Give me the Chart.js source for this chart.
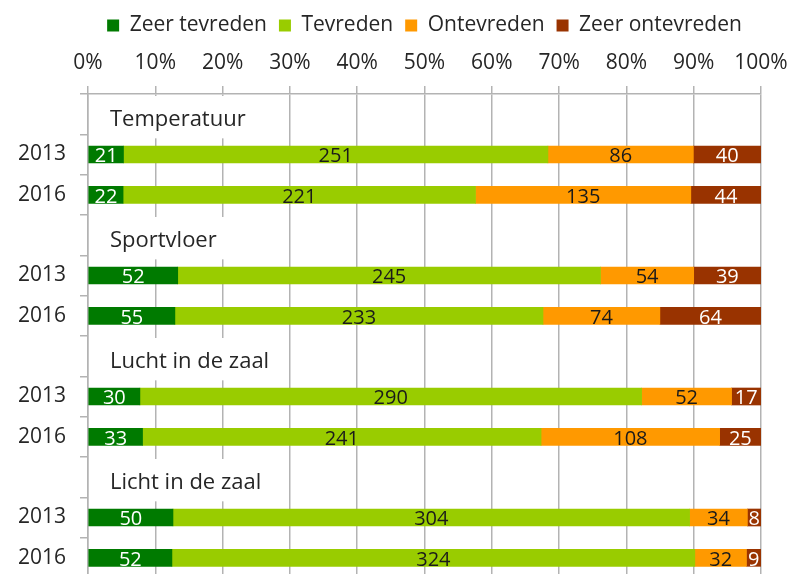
<!DOCTYPE html>
<html>
<head>
<meta charset="utf-8">
<script src="https://cdn.jsdelivr.net/npm/chart.js@4"></script>
<style>
  html, body { margin: 0; padding: 0; background: #fff; overflow: hidden; }
  #wrap { width: 792px; height: 578px; }
</style>
</head>
<body>
<div id="wrap"><canvas id="c" width="792" height="578"></canvas></div>
<script>
// ---- data ----
const groups = ['Temperatuur', 'Sportvloer', 'Lucht in de zaal', 'Licht in de zaal'];
const years = ['2013', '2016'];
const seriesNames = ['Zeer tevreden', 'Tevreden', 'Ontevreden', 'Zeer ontevreden'];
const seriesColors = ['#007a00', '#99cc00', '#ff9900', '#993300'];
const labelColors = ['#ffffff', '#1a1a1a', '#1a1a1a', '#ffffff'];
// counts, ordered group by group, 2013 then 2016
const zeerTevreden   = [21, 22, 52, 55, 30, 33, 50, 52];
const tevreden       = [251, 221, 245, 233, 290, 241, 304, 324];
const ontevreden     = [86, 135, 54, 74, 52, 108, 34, 32];
const zeerOntevreden = [40, 44, 39, 64, 17, 25, 8, 9];
const xTicks = [0,10,20,30,40,50,60,70,80,90,100];

// ---- build rows: group header row followed by year rows ----
const allSeries = [zeerTevreden, tevreden, ontevreden, zeerOntevreden];
const rowLabels = [];
const rowGroup = [];
const counts = allSeries.map(() => []);
let k = 0;
groups.forEach(g => {
  rowLabels.push(''); rowGroup.push(g);
  allSeries.forEach((s, si) => counts[si].push(null));
  years.forEach(y => {
    rowLabels.push(y); rowGroup.push(null);
    allSeries.forEach((s, si) => counts[si].push(s[k]));
    k++;
  });
});
const totals = rowLabels.map((_, i) => counts.reduce((a, c) => a + (c[i] || 0), 0));
const datasets = seriesNames.map((name, si) => ({
  label: name,
  data: counts[si].map((v, i) => v === null ? null : v / totals[i] * 100),
  counts: counts[si],
  backgroundColor: seriesColors[si],
  labelColor: labelColors[si],
  barThickness: 17,
  borderWidth: 0
}));

const FONT = '"Open Sans", "Noto Sans", sans-serif';
const GRID = '#b3b3b3';

const groupLabelPlugin = {
  id: 'groupLabels',
  beforeDatasetsDraw(chart) {
    const ctx = chart.ctx, y = chart.scales.y, area = chart.chartArea;
    ctx.save();
    ctx.font = '22px ' + FONT;
    rowGroup.forEach((g, i) => {
      if (!g) return;
      const cy = y.getPixelForValue(i);
      const half = (y.getPixelForValue(1) - y.getPixelForValue(0)) / 2;
      const tx = area.left + 22;
      const w = ctx.measureText(g).width;
      ctx.fillStyle = '#ffffff';
      ctx.fillRect(area.left + 2, cy - half + 2, tx - area.left + w + 6, 2 * half + 2);
      ctx.fillStyle = '#262626';
      ctx.textBaseline = 'middle';
      ctx.textAlign = 'left';
      ctx.fillText(g, tx, cy + 6);
    });
    ctx.restore();
  }
};

const valueLabelPlugin = {
  id: 'valueLabels',
  afterDatasetsDraw(chart) {
    const ctx = chart.ctx;
    ctx.save();
    ctx.font = '20px ' + FONT;
    ctx.textAlign = 'center';
    ctx.textBaseline = 'middle';
    chart.data.datasets.forEach((ds, di) => {
      const meta = chart.getDatasetMeta(di);
      meta.data.forEach((el, i) => {
        const c = ds.counts[i];
        if (c === null || c === undefined) return;
        ctx.fillStyle = ds.labelColor;
        ctx.fillText(String(c), (el.x + el.base) / 2, el.y + 2);
      });
    });
    ctx.restore();
  }
};

new Chart(document.getElementById('c'), {
  type: 'bar',
  data: { labels: rowLabels, datasets },
  plugins: [groupLabelPlugin, valueLabelPlugin],
  options: {
    indexAxis: 'y',
    responsive: false,
    animation: false,
    layout: { padding: { left: 0, right: 31, top: 3, bottom: 0 } },
    plugins: {
      legend: {
        position: 'top',
        fullSize: false,
        maxWidth: 792,
        labels: {
          font: { size: 21, family: FONT },
          color: '#262626',
          boxWidth: 12,
          boxHeight: 12,
          padding: 12
        }
      },
      tooltip: { enabled: false }
    },
    scales: {
      x: {
        position: 'top',
        stacked: true,
        min: 0,
        max: 100,
        afterBuildTicks(s) { s.ticks = xTicks.map(v => ({ value: v })); },
        afterFit(s) { s.height = 48; s.paddingRight = 0; s.paddingLeft = 0; },
        ticks: {
          callback: v => v + '%',
          font: { size: 21, family: FONT },
          color: '#262626',
          padding: 10,
          maxRotation: 0
        },
        grid: { color: GRID, lineWidth: 1.5, tickLength: 8 },
        border: { color: GRID, width: 1.5 }
      },
      y: {
        stacked: true,
        afterFit(s) { s.width = 88; s.paddingTop = 0; s.paddingBottom = 0; },
        ticks: {
          font: { size: 21, family: FONT },
          color: '#262626',
          padding: 14,
          autoSkip: false
        },
        grid: { offset: true, drawOnChartArea: false, drawTicks: true, tickLength: 8, color: GRID, lineWidth: 1.5 },
        border: { color: GRID, width: 1.5 }
      }
    }
  }
});
</script>
</body>
</html>
